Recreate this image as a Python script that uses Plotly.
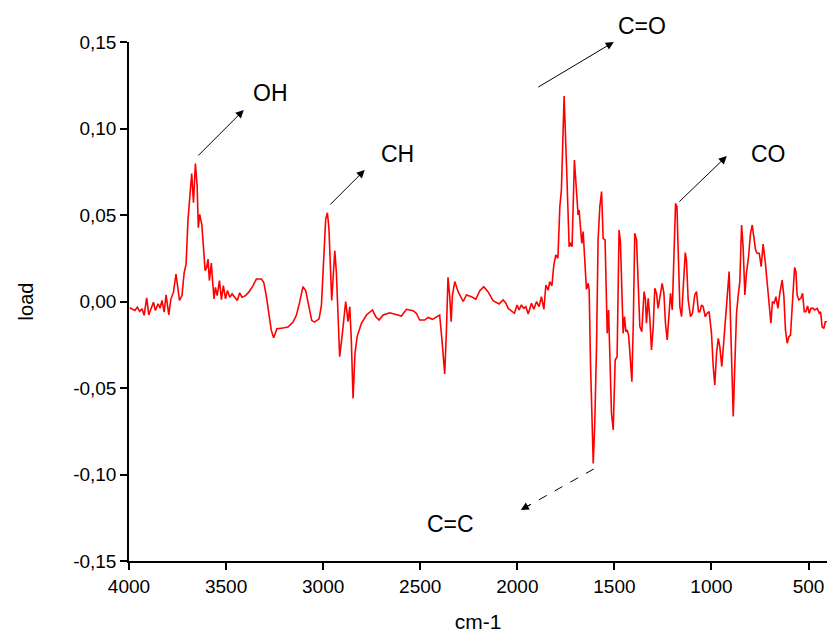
import plotly.graph_objects as go

# loading spectrum (wavenumber in cm-1, load)
wavenumber = [
    3996, 3970, 3957, 3945, 3933, 3922, 3909, 3898, 3885, 3874, 3864, 3850, 3840, 3830,
    3819, 3809, 3795, 3785, 3771, 3758, 3740, 3727, 3716, 3706, 3696, 3685, 3677, 3668,
    3658, 3649, 3643, 3636, 3625, 3617, 3608, 3600, 3593, 3586, 3576, 3569, 3562, 3555,
    3546, 3534, 3524, 3514, 3503, 3493, 3481, 3469, 3455, 3442, 3430, 3418, 3400, 3383,
    3361, 3344, 3318, 3306, 3293, 3279, 3267, 3255, 3238, 3207, 3181, 3155, 3138, 3121,
    3104, 3090, 3076, 3059, 3045, 3035, 3021, 3009, 2997, 2987, 2978, 2970, 2956, 2949,
    2940, 2932, 2915, 2901, 2884, 2872, 2863, 2855, 2846, 2836, 2825, 2803, 2777, 2746,
    2729, 2712, 2691, 2657, 2623, 2597, 2571, 2537, 2520, 2503, 2477, 2460, 2437, 2417,
    2400, 2388, 2374, 2365, 2357, 2348, 2341, 2334, 2322, 2305, 2279, 2262, 2236, 2214,
    2193, 2173, 2151, 2125, 2094, 2073, 2059, 2047, 2034, 2015, 2001, 1991, 1979, 1967,
    1956, 1944, 1927, 1915, 1901, 1888, 1876, 1863, 1853, 1841, 1833, 1822, 1812, 1802,
    1791, 1781, 1773, 1759, 1747, 1733, 1726, 1718, 1706, 1695, 1687, 1682, 1675, 1668,
    1661, 1652, 1644, 1635, 1630, 1623, 1616, 1609, 1601, 1592, 1584, 1575, 1566, 1558,
    1548, 1537, 1530, 1524, 1515, 1506, 1496, 1486, 1476, 1469, 1462, 1455, 1448, 1441,
    1434, 1427, 1420, 1410, 1403, 1395, 1386, 1378, 1369, 1359, 1352, 1347, 1340, 1335,
    1326, 1317, 1309, 1300, 1292, 1283, 1275, 1266, 1254, 1245, 1237, 1228, 1220, 1211,
    1202, 1194, 1185, 1178, 1172, 1163, 1154, 1146, 1135, 1129, 1120, 1108, 1098, 1086,
    1077, 1067, 1060, 1051, 1043, 1032, 1022, 1012, 1000, 991, 983, 974, 965, 957,
    947, 936, 926, 916, 909, 902, 895, 888, 880, 871, 862, 854, 845, 837,
    828, 820, 809, 799, 790, 782, 773, 765, 754, 744, 734, 723, 713, 703,
    694, 686, 677, 668, 658, 648, 636, 627, 619, 610, 601, 593, 586, 579,
    572, 565, 559, 550, 540, 531, 522, 514, 505, 497, 488, 476, 468, 455,
    445, 438, 430, 421, 414, 406,
]
load = [
    -0.0036, -0.0052, -0.0033, -0.0057, -0.0042, -0.0080, 0.0021, -0.0077, -0.0038, -0.0004, -0.0052, -0.0013, -0.0038, 0.0006,
    -0.0061, 0.0038, -0.0077, 0.0011, 0.0054, 0.0159, 0.0006, 0.0034, 0.0165, 0.0216, 0.0475, 0.0667, 0.0740, 0.0571,
    0.0797, 0.0667, 0.0427, 0.0504, 0.0446, 0.0322, 0.0178, 0.0197, 0.0245, 0.0121, 0.0222, 0.0111, 0.0015, 0.0082,
    0.0034, 0.0121, 0.0011, 0.0092, 0.0015, 0.0063, 0.0025, 0.0044, 0.0025, 0.0006, 0.0050, 0.0025, 0.0034, 0.0054,
    0.0092, 0.0130, 0.0130, 0.0110, 0.0034, -0.0061, -0.0167, -0.0210, -0.0157, -0.0153, -0.0148, -0.0119, -0.0080, -0.0004,
    0.0086, 0.0063, -0.0023, -0.0109, -0.0119, -0.0109, -0.0100, -0.0023, 0.0264, 0.0475, 0.0513, 0.0418, 0.0006, 0.0130,
    0.0293, 0.0169, -0.0319, -0.0184, 0.0000, -0.0117, -0.0030, -0.0222, -0.0560, -0.0300, -0.0203, -0.0126, -0.0078, -0.0049,
    -0.0088, -0.0107, -0.0078, -0.0065, -0.0078, -0.0084, -0.0045, -0.0053, -0.0068, -0.0107, -0.0107, -0.0092, -0.0103, -0.0088,
    -0.0078, -0.0223, -0.0419, -0.0165, 0.0140, 0.0028, -0.0117, 0.0038, 0.0115, 0.0057, 0.0000, 0.0038, 0.0028, 0.0013,
    0.0063, 0.0086, 0.0057, 0.0005, -0.0014, 0.0009, -0.0010, -0.0040, -0.0053, -0.0068, -0.0020, -0.0049, -0.0020, -0.0040,
    -0.0030, -0.0072, -0.0010, -0.0045, 0.0000, -0.0030, 0.0028, -0.0045, 0.0095, 0.0066, 0.0115, 0.0090, 0.0211, 0.0269,
    0.0250, 0.0548, 0.0644, 0.1188, 0.0799, 0.0317, 0.0340, 0.0317, 0.0818, 0.0644, 0.0500, 0.0529, 0.0404, 0.0336,
    0.0404, 0.0201, 0.0070, 0.0105, 0.0066, -0.0357, -0.0743, -0.0936, -0.0704, -0.0260, 0.0356, 0.0548, 0.0635, 0.0365,
    0.0356, -0.0184, -0.0049, -0.0242, -0.0646, -0.0743, -0.0338, -0.0319, 0.0413, 0.0347, 0.0124, -0.0184, -0.0087, -0.0174,
    -0.0165, -0.0194, -0.0300, -0.0464, -0.0145, 0.0394, 0.0356, 0.0124, -0.0145, -0.0174, -0.0030, 0.0057, 0.0009, -0.0126,
    0.0018, -0.0107, -0.0280, -0.0145, 0.0076, 0.0047, -0.0040, 0.0018, 0.0105, 0.0047, -0.0126, -0.0222, -0.0068, 0.0047,
    -0.0049, 0.0240, 0.0567, 0.0548, 0.0240, -0.0030, -0.0087, 0.0047, 0.0283, 0.0240, 0.0009, -0.0087, -0.0068, 0.0038,
    0.0057, -0.0059, -0.0059, -0.0020, -0.0030, -0.0088, -0.0068, -0.0059, -0.0184, -0.0376, -0.0483, -0.0300, -0.0213, -0.0261,
    -0.0376, -0.0222, -0.0068, 0.0105, 0.0173, -0.0107, -0.0453, -0.0665, -0.0376, -0.0068, 0.0038, 0.0115, 0.0442, 0.0317,
    0.0038, 0.0163, 0.0259, 0.0394, 0.0442, 0.0375, 0.0298, 0.0279, 0.0279, 0.0201, 0.0332, 0.0230, 0.0115, -0.0030,
    -0.0126, 0.0000, -0.0010, 0.0028, -0.0040, 0.0047, 0.0124, 0.0028, -0.0164, -0.0241, -0.0203, -0.0194, -0.0068, 0.0086,
    0.0197, 0.0173, 0.0038, 0.0009, 0.0018, 0.0047, -0.0059, -0.0059, -0.0026, -0.0068, -0.0040, -0.0040, -0.0049, -0.0040,
    -0.0068, -0.0059, -0.0146, -0.0155, -0.0117, -0.0117,
]

x_ticks = [4000, 3500, 3000, 2500, 2000, 1500, 1000, 500]
y_ticks = [-0.15, -0.10, -0.05, 0.0, 0.05, 0.10, 0.15]
y_tick_labels = ["-0,15", "-0,10", "-0,05", "0,00", "0,05", "0,10", "0,15"]

# band labels
labels = ["OH", "CH", "C=O", "CO"]
label_x = [3270, 2616, 1359, 704]
label_y = [0.1205, 0.0853, 0.1592, 0.0853]
tail_x = [3651, 2971, 1900, 1173]
tail_y = [0.0835, 0.0552, 0.1234, 0.0569]
head_x = [3409, 2786, 1503, 921]
head_y = [0.1107, 0.0760, 0.1500, 0.0841]

font = "Liberation Sans, Arial, sans-serif"
ymin, ymax = -0.15, 0.15


def paper_y(v):
    return (v - ymin) / (ymax - ymin)


fig = go.Figure(go.Scatter(x=wavenumber, y=load, mode="lines",
                           line=dict(color="#ff0000", width=1.6), showlegend=False))

for t, lx, ly, tx, ty, hx, hy in zip(labels, label_x, label_y, tail_x, tail_y, head_x, head_y):
    fig.add_annotation(x=hx, y=hy, ax=tx, ay=ty, xref="x", yref="y", axref="x", ayref="y",
                       text="", showarrow=True, arrowhead=2, arrowsize=1.6, arrowwidth=1,
                       arrowcolor="black")
    fig.add_annotation(x=lx, y=paper_y(ly), xref="x", yref="paper", text=t, showarrow=False,
                       xanchor="center", yanchor="middle",
                       font=dict(family=font, size=23, color="black"))

# C=C : dashed arrow pointing down-left
cc_tail = (1606, -0.0968)
cc_head = (1982, -0.1205)
fig.add_shape(type="line", x0=cc_tail[0], y0=cc_tail[1], x1=cc_head[0], y1=cc_head[1],
              line=dict(color="black", width=1, dash="dash"))
fig.add_annotation(x=cc_head[0], y=cc_head[1],
                   ax=cc_head[0] - (cc_head[0] - cc_tail[0]) * 0.15,
                   ay=cc_head[1] - (cc_head[1] - cc_tail[1]) * 0.15,
                   xref="x", yref="y", axref="x", ayref="y", text="", showarrow=True,
                   arrowhead=2, arrowsize=1.6, arrowwidth=1, arrowcolor="black")
fig.add_annotation(x=2342, y=paper_y(-0.1286), xref="x", yref="paper", text="C=C",
                   showarrow=False, xanchor="center", yanchor="middle",
                   font=dict(family=font, size=23, color="black"))

fig.update_layout(
    width=827, height=633,
    margin=dict(l=129, r=0, t=42, b=72),
    plot_bgcolor="white", paper_bgcolor="white",
    font=dict(family=font, size=19, color="black"),
    xaxis=dict(range=[4000, 405], tickvals=x_ticks, automargin=False,
               showgrid=False, zeroline=False, showline=True, linecolor="black", linewidth=1.5,
               ticks="outside", ticklen=7, tickwidth=1.5, tickcolor="black",
               title=dict(text="cm-1", font=dict(size=21), standoff=28)),
    yaxis=dict(range=[ymin, ymax], tickvals=y_ticks, ticktext=y_tick_labels, automargin=False,
               showgrid=False, zeroline=False, showline=True, linecolor="black", linewidth=1.5,
               ticks="outside", ticklen=7, tickwidth=1.5, tickcolor="black",
               title=dict(text="load", font=dict(size=20), standoff=34)),
)

fig.write_html("out.html", config={"displayModeBar": False},
               post_script="document.body.style.margin='0';")
